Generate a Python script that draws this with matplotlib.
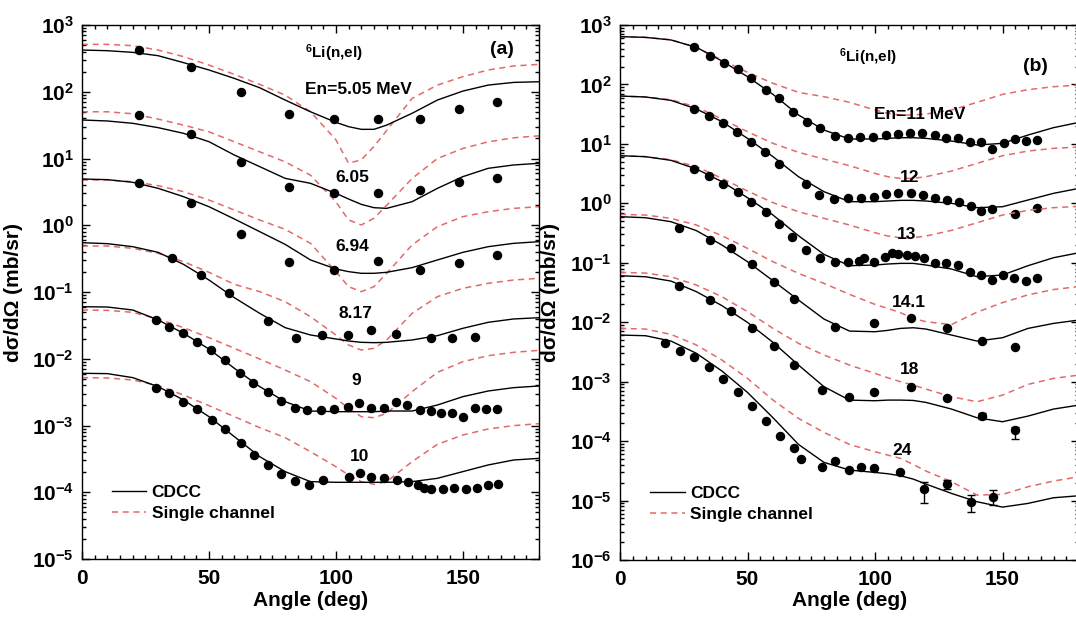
import numpy as np
import matplotlib
matplotlib.use('Agg')
import matplotlib.pyplot as plt
from matplotlib.ticker import MultipleLocator, FuncFormatter, NullFormatter, FixedLocator
from matplotlib.lines import Line2D

plt.rcParams['font.family'] = ['Liberation Sans', 'DejaVu Sans']
plt.rcParams['font.weight'] = 'bold'
plt.rcParams['mathtext.fontset'] = 'custom'
plt.rcParams['mathtext.rm'] = 'Liberation Sans:bold'
plt.rcParams['mathtext.bf'] = 'Liberation Sans:bold'
plt.rcParams['mathtext.it'] = 'Liberation Sans:bold:italic'
plt.rcParams['mathtext.default'] = 'bf'

# ---------------- data (log10 of dσ/dΩ in mb/sr) ----------------
ANG = [0, 10, 20, 30, 40, 50, 60, 70, 80, 90, 100, 105, 110, 115, 120, 130, 140, 150, 160, 170, 180]

# panel (a)
cdcc_505 = [2.625, 2.615, 2.59, 2.54, 2.436, 2.326, 2.20, 2.06, 1.876, 1.70, 1.542, 1.477, 1.437, 1.437, 1.50, 1.677, 1.876, 2.01, 2.10, 2.14, 2.15]
sc_505 = [2.71, 2.71, 2.69, 2.625, 2.526, 2.40, 2.26, 2.11, 1.95, 1.70, 1.28, 0.93, 0.98, 1.18, 1.42, 1.90, 2.10, 2.226, 2.326, 2.386, 2.41]
cdcc_605 = [1.577, 1.562, 1.527, 1.462, 1.377, 1.252, 1.052, 0.878, 0.703, 0.628, 0.478, 0.393, 0.313, 0.263, 0.253, 0.353, 0.553, 0.728, 0.853, 0.903, 0.928]
sc_605 = [1.70, 1.70, 1.67, 1.59, 1.50, 1.40, 1.25, 1.10, 0.95, 0.75, 0.35, 0.08, 0.004, 0.104, 0.30, 0.70, 1.0, 1.15, 1.25, 1.31, 1.34]
cdcc_694 = [0.693, 0.683, 0.643, 0.553, 0.428, 0.278, 0.094, -0.096, -0.286, -0.52, -0.655, -0.695, -0.72, -0.72, -0.705, -0.635, -0.52, -0.406, -0.321, -0.271, -0.246]
sc_694 = [0.678, 0.678, 0.653, 0.593, 0.503, 0.378, 0.228, 0.079, -0.061, -0.271, -0.695, -0.92, -0.995, -0.92, -0.72, -0.296, -0.021, 0.129, 0.203, 0.253, 0.278]
cdcc_817 = [-0.261, -0.276, -0.321, -0.406, -0.586, -0.82, -1.085, -1.32, -1.534, -1.644, -1.704, -1.734, -1.754, -1.759, -1.754, -1.719, -1.654, -1.544, -1.454, -1.404, -1.385]
sc_817 = [-0.311, -0.311, -0.346, -0.421, -0.546, -0.705, -0.885, -0.995, -1.145, -1.37, -1.644, -1.794, -1.869, -1.844, -1.719, -1.32, -1.07, -0.945, -0.87, -0.82, -0.795]
cdcc_9 = [-1.22, -1.225, -1.27, -1.419, -1.619, -1.854, -2.143, -2.418, -2.643, -2.783, -2.793, -2.793, -2.793, -2.793, -2.783, -2.783, -2.693, -2.568, -2.483, -2.433, -2.408]
sc_9 = [-1.27, -1.275, -1.305, -1.404, -1.534, -1.684, -1.844, -2.004, -2.168, -2.343, -2.593, -2.743, -2.868, -2.883, -2.818, -2.493, -2.204, -2.044, -1.954, -1.904, -1.874]
cdcc_10 = [-2.218, -2.223, -2.283, -2.418, -2.618, -2.867, -3.167, -3.467, -3.691, -3.841, -3.851, -3.851, -3.851, -3.851, -3.851, -3.841, -3.791, -3.691, -3.591, -3.517, -3.492]
sc_10 = [-2.283, -2.288, -2.318, -2.403, -2.543, -2.703, -2.867, -3.032, -3.182, -3.392, -3.617, -3.741, -3.841, -3.881, -3.841, -3.542, -3.282, -3.142, -3.052, -3.002, -2.972]

ang_exp_a = [22.6, 42.9, 62.6, 81.4, 99.3, 116.7, 133.1, 148.4, 163.5]
exp_505 = [2.625, 2.366, 2.0, 1.671, 1.587, 1.587, 1.587, 1.737, 1.851]
exp_605 = [1.652, 1.362, 0.953, 0.578, 0.488, 0.488, 0.528, 0.653, 0.703]
exp_694 = [0.638, 0.328, -0.136, -0.546, -0.67, -0.536, -0.67, -0.571, -0.446]
ang_exp_817 = [35.3, 46.9, 58.0, 73.4, 84.1, 94.4, 104.6, 114.0, 123.6, 137.4, 145.9, 154.7]
exp_817 = [-0.486, -0.745, -1.02, -1.434, -1.684, -1.644, -1.644, -1.569, -1.629, -1.684, -1.684, -1.669]
ang_exp_9 = [29.1, 34.4, 39.9, 45.4, 50.8, 56.3, 62.2, 67.5, 73.1, 78.2, 83.9, 88.5, 94.0, 99.3, 104.6, 109.2,
             114.0, 119.0, 123.6, 128.1, 133.1, 137.3, 141.3, 145.8, 150.1, 154.7, 159.3, 163.5]
exp_9 = [-1.419, -1.519, -1.619, -1.744, -1.869, -2.019, -2.219, -2.369, -2.494, -2.633, -2.743, -2.768, -2.768, -2.753,
         -2.718, -2.668, -2.733, -2.733, -2.653, -2.693, -2.768, -2.783, -2.818, -2.818, -2.868, -2.743, -2.753, -2.753]
ang_exp_10 = [29.1, 34.4, 39.9, 45.4, 51.4, 56.3, 62.5, 67.7, 73.1, 78.2, 83.9, 89.5, 94.8, 105.2, 109.4, 114.0,
              119.0, 123.9, 128.5, 132.4, 134.6, 137.4, 142.3, 146.6, 151.1, 155.4, 160.0, 163.9]
exp_10 = [-2.433, -2.518, -2.643, -2.753, -2.917, -3.052, -3.267, -3.442, -3.592, -3.731, -3.831, -3.891, -3.816, -3.766,
          -3.716, -3.766, -3.781, -3.816, -3.851, -3.891, -3.931, -3.956, -3.951, -3.931, -3.951, -3.931, -3.891, -3.881]

# panel (b)
cdcc_11 = [2.804, 2.792, 2.748, 2.624, 2.394, 2.131, 1.833, 1.486, 1.233, 1.082, 1.082, 1.093, 1.104, 1.104, 1.093, 1.048, 0.981, 1.009, 1.149, 1.273, 1.362]
sc_11 = [2.804, 2.792, 2.753, 2.619, 2.411, 2.204, 2.019, 1.867, 1.794, 1.699, 1.570, 1.514, 1.486, 1.486, 1.503, 1.570, 1.699, 1.833, 1.912, 1.962, 1.990]
cdcc_12 = [1.805, 1.789, 1.732, 1.587, 1.374, 1.093, 0.785, 0.448, 0.196, 0.028, 0.028, 0.039, 0.050, 0.050, 0.039, 0.0, -0.073, -0.057, 0.056, 0.168, 0.252]
sc_12 = [1.805, 1.789, 1.744, 1.620, 1.418, 1.205, 1.009, 0.858, 0.745, 0.633, 0.504, 0.448, 0.420, 0.420, 0.448, 0.543, 0.672, 0.801, 0.880, 0.925, 0.947]
cdcc_13 = [0.801, 0.785, 0.723, 0.577, 0.364, 0.095, -0.197, -0.545, -0.859, -1.049, -1.038, -1.021, -1.010, -1.010, -1.038, -1.105, -1.234, -1.206, -1.049, -0.915, -0.831]
sc_13 = [0.801, 0.785, 0.734, 0.616, 0.420, 0.207, 0.011, -0.141, -0.253, -0.365, -0.494, -0.550, -0.578, -0.578, -0.550, -0.455, -0.326, -0.197, -0.118, -0.073, -0.051]
cdcc_141 = [-0.225, -0.242, -0.309, -0.460, -0.702, -0.982, -1.302, -1.627, -1.947, -2.149, -2.160, -2.137, -2.104, -2.093, -2.115, -2.216, -2.317, -2.261, -2.104, -2.020, -1.963]
sc_141 = [-0.186, -0.197, -0.253, -0.365, -0.545, -0.758, -0.982, -1.178, -1.347, -1.532, -1.700, -1.767, -1.840, -1.935, -1.992, -2.040, -1.830, -1.670, -1.540, -1.450, -1.400]
cdcc_18 = [-1.218, -1.235, -1.308, -1.487, -1.722, -2.003, -2.339, -2.721, -3.085, -3.310, -3.321, -3.310, -3.310, -3.316, -3.349, -3.461, -3.607, -3.674, -3.579, -3.461, -3.394]
sc_18 = [-1.162, -1.173, -1.235, -1.375, -1.571, -1.823, -2.104, -2.356, -2.552, -2.721, -2.861, -2.934, -3.001, -3.057, -3.125, -3.254, -3.338, -3.226, -3.046, -2.945, -2.889]
cdcc_24 = [-2.216, -2.227, -2.317, -2.524, -2.822, -3.181, -3.607, -4.056, -4.358, -4.487, -4.527, -4.549, -4.583, -4.639, -4.723, -4.880, -5.020, -5.110, -5.048, -4.953, -4.919]
sc_24 = [-2.104, -2.115, -2.205, -2.384, -2.637, -2.945, -3.310, -3.618, -3.854, -4.056, -4.179, -4.235, -4.291, -4.392, -4.504, -4.683, -4.908, -4.897, -4.768, -4.672, -4.600]

ang_exp_11 = [29.2, 35.4, 40.7, 46.3, 51.4, 57.3, 62.2, 67.8, 73.3, 78.6, 84.2, 89.4, 94.0, 99.2, 104.4, 109.0,
              113.6, 118.4, 123.4, 128.0, 132.5, 137.4, 141.7, 145.9, 150.6, 155.0, 159.3, 163.5]
exp_11 = [2.624, 2.484, 2.366, 2.254, 2.103, 1.906, 1.766, 1.531, 1.374, 1.261, 1.138, 1.104, 1.121, 1.121, 1.149, 1.166,
          1.177, 1.177, 1.149, 1.104, 1.093, 1.026, 1.037, 0.914, 1.009, 1.082, 1.048, 1.065]
ang_exp_12 = [29.2, 34.8, 40.4, 45.9, 51.4, 57.0, 62.5, 73.1, 78.2, 84.1, 89.4, 94.4, 99.6, 104.4, 109.0, 114.0,
              118.8, 123.7, 128.4, 132.8, 137.5, 141.4, 145.9, 155.0, 163.5]
exp_12 = [1.581, 1.469, 1.346, 1.194, 1.037, 0.869, 0.656, 0.319, 0.140, 0.067, 0.084, 0.095, 0.112, 0.151, 0.179, 0.168,
          0.140, 0.095, 0.056, 0.016, -0.040, -0.130, -0.102, -0.186, -0.073]
ang_exp_13 = [29.2, 34.8, 40.4, 46.1, 51.4, 57.3, 62.2, 67.5, 73.1, 78.3, 84.2, 89.4, 93.6, 95.7, 99.6, 103.8,
              106.7, 109.0, 112.7, 115.8, 119.2, 123.7, 128.0, 132.5, 137.1, 141.7, 145.9, 150.2, 154.7, 159.2, 163.5]
exp_13 = [0.572, 0.465, 0.330, 0.185, 0.027, -0.152, -0.354, -0.561, -0.786, -0.915, -0.993, -0.993, -0.971, -0.915,
          -0.982, -0.898, -0.842, -0.859, -0.870, -0.881, -0.915, -1.010, -1.010, -1.038, -1.150, -1.206, -1.290,
          -1.206, -1.262, -1.307, -1.262]
ang_exp_141 = [23.0, 35.2, 43.5, 51.8, 60.3, 68.1, 84.4, 99.6, 114.2, 128.4, 142.0, 155.0]
exp_141 = [-0.421, -0.617, -0.758, -1.027, -1.319, -1.610, -2.076, -2.020, -1.936, -2.104, -2.317, -2.424]
ang_exp_18 = [23.0, 35.2, 43.5, 51.8, 60.3, 68.4, 79.2, 89.7, 99.6, 114.2, 128.4, 142.0, 155.0]
exp_18 = [-1.39, -1.627, -1.812, -2.093, -2.396, -2.721, -3.142, -3.254, -3.181, -3.086, -3.282, -3.574, -3.815]
ang_exp_24 = [17.8, 23.4, 29.2, 34.8, 40.4, 46.1, 51.8, 57.4, 62.9, 68.4, 71.0, 79.2, 84.4, 89.7, 94.6, 99.6,
              109.7, 119.2, 128.4, 137.5, 146.3]
exp_24 = [-2.356, -2.480, -2.580, -2.749, -2.956, -3.169, -3.405, -3.663, -3.910, -4.123, -4.302, -4.431, -4.336,
          -4.487, -4.431, -4.459, -4.515, -4.807, -4.723, -5.031, -4.936]

# error bars (log10 lower / upper limits)
err_ang_18 = [142.0, 155.0]
err_val_18 = [-3.574, -3.815]
err_lo_18 = [-3.62, -3.96]
err_hi_18 = [-3.53, -3.77]
err_ang_24 = [119.2, 128.4, 137.5, 146.3]
err_val_24 = [-4.807, -4.723, -5.031, -4.936]
err_lo_24 = [-5.04, -4.80, -5.19, -5.08]
err_hi_24 = [-4.69, -4.65, -4.90, -4.83]

# energy labels: (text, angle, log10 value)
labels_a = [("En=5.05 MeV", 109.0, 2.03), ("6.05", 106.5, 0.71), ("6.94", 106.5, -0.32),
            ("8.17", 107.8, -1.32), ("9", 108.1, -2.32), ("10", 109.4, -3.47)]
labels_b = [("En=11 MeV", 117.6, 1.49), ("12", 113.7, 0.44), ("13", 112.5, -0.53),
            ("14.1", 113.4, -1.66), ("18", 113.7, -2.80), ("24", 110.6, -4.15)]

yticks_a = [-5, -4, -3, -2, -1, 0, 1, 2, 3]
yticks_b = [-6, -5, -4, -3, -2, -1, 0, 1, 2, 3]
xticks = [0, 50, 100, 150]

curves_a = [(cdcc_505, sc_505), (cdcc_605, sc_605), (cdcc_694, sc_694),
            (cdcc_817, sc_817), (cdcc_9, sc_9), (cdcc_10, sc_10)]
exps_a = [(ang_exp_a, exp_505), (ang_exp_a, exp_605), (ang_exp_a, exp_694),
          (ang_exp_817, exp_817), (ang_exp_9, exp_9), (ang_exp_10, exp_10)]
curves_b = [(cdcc_11, sc_11), (cdcc_12, sc_12), (cdcc_13, sc_13),
            (cdcc_141, sc_141), (cdcc_18, sc_18), (cdcc_24, sc_24)]
exps_b = [(ang_exp_11, exp_11), (ang_exp_12, exp_12), (ang_exp_13, exp_13),
          (ang_exp_141, exp_141), (ang_exp_18, exp_18), (ang_exp_24, exp_24)]

RED = '#e26a6a'
W, H = 1076, 620
fig = plt.figure(figsize=(W / 100, H / 100), dpi=100)
ax_a = fig.add_axes([82 / W, (H - 559) / H, 457 / W, 534 / H])
ax_b = fig.add_axes([620 / W, (H - 560) / H, 459 / W, 535 / H])


def p10(v):
    return np.power(10.0, np.asarray(v, dtype=float))


def style(ax, yt):
    ax.set_yscale('log')
    ax.set_xlim(0, 180)
    ax.set_ylim(10.0 ** yt[0], 10.0 ** yt[-1])
    ax.xaxis.set_major_locator(FixedLocator(xticks))
    ax.xaxis.set_minor_locator(MultipleLocator(5))
    majors = list(p10(yt))
    minors = [m * 10.0 ** e for e in yt[:-1] for m in range(2, 10)]
    ax.yaxis.set_major_locator(FixedLocator(majors))
    ax.yaxis.set_minor_locator(FixedLocator(minors))
    ax.yaxis.set_minor_formatter(NullFormatter())
    ax.yaxis.set_major_formatter(FuncFormatter(lambda v, p: r'$10^{%d}$' % int(round(np.log10(v)))))
    ax.tick_params(which='both', direction='in', top=True, right=True, labelsize=15, width=1.0)
    ax.tick_params(which='major', length=6)
    ax.tick_params(which='minor', length=3)
    ax.tick_params(axis='x', pad=7)
    ax.tick_params(axis='y', pad=6)
    for lab in ax.get_xticklabels() + ax.get_yticklabels():
        lab.set_fontweight('bold')
    for s in ax.spines.values():
        s.set_linewidth(1.0)
    ax.set_xlabel('Angle (deg)', fontsize=15, fontweight='bold', labelpad=2)
    ax.set_ylabel('dσ/dΩ (mb/sr)', fontsize=15, fontweight='bold')
    ax.yaxis.set_label_coords(-0.13, 0.5)


def draw(ax, curves, exps, labels):
    for (cd, sc), (ea, ev) in zip(curves, exps):
        ax.plot(ANG, p10(sc), color=RED, lw=1.1, ls=(0, (4, 3)))
        ax.plot(ANG, p10(cd), color='black', lw=1.0)
        ax.plot(ea, p10(ev), 'o', color='black', ms=5.8, mec='black')
    for t, x, y in labels:
        ax.text(x, 10 ** y, t, fontsize=12.5, fontweight='bold', ha='center', va='center')
    handles = [Line2D([], [], color='black', lw=1.0),
               Line2D([], [], color=RED, lw=1.1, ls=(0, (4, 3)))]
    ax.legend(handles, ['CDCC', 'Single channel'], loc='upper left', bbox_to_anchor=(0.065, 0.138),
              frameon=False, fontsize=12.5, handlelength=2.0, handletextpad=0.3,
              labelspacing=0.3, borderpad=0, borderaxespad=0)


style(ax_a, yticks_a)
style(ax_b, yticks_b)
draw(ax_a, curves_a, exps_a, labels_a)
draw(ax_b, curves_b, exps_b, labels_b)

for ea, ev, lo, hi in [(err_ang_18, err_val_18, err_lo_18, err_hi_18),
                       (err_ang_24, err_val_24, err_lo_24, err_hi_24)]:
    v = p10(ev)
    ax_b.errorbar(ea, v, yerr=[v - p10(lo), p10(hi) - v], fmt='none', ecolor='black', elinewidth=1.0, capsize=3)

ax_a.text(99.2, 10 ** 2.58, r'$^{6}$Li(n,el)', fontsize=11, fontweight='bold', ha='center', va='center')
ax_a.text(165.4, 10 ** 2.63, '(a)', fontsize=14, fontweight='bold', ha='center', va='center')
ax_b.text(97.3, 10 ** 2.46, r'$^{6}$Li(n,el)', fontsize=11, fontweight='bold', ha='center', va='center')
ax_b.text(163.1, 10 ** 2.31, '(b)', fontsize=14, fontweight='bold', ha='center', va='center')

fig.savefig('out.png', dpi=100)
